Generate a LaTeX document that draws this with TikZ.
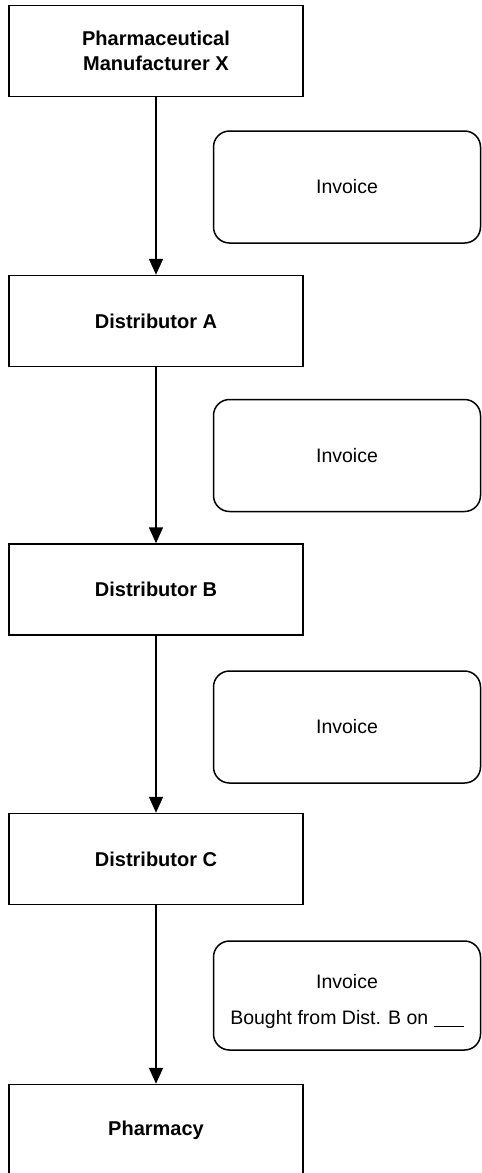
\documentclass[tikz,border=0pt]{standalone}
\usepackage{fontspec}
\setmainfont{Liberation Sans}
\usetikzlibrary{arrows.meta}
\begin{document}
\begin{tikzpicture}[x=1pt,y=-1pt,
  party/.style={draw=black,line width=1.5pt,minimum width=294pt,minimum height=91pt,
    align=center,inner sep=0pt,font=\fontsize{20}{25}\selectfont\bfseries},
  doc/.style={draw=black,line width=1.5pt,rounded corners=16pt,minimum width=267pt,
    minimum height=112pt,align=center,inner sep=0pt,font=\fontsize{19.5}{36}\selectfont},
  flow/.style={line width=1.8pt,-{Triangle[length=16pt,width=14pt]}}]
\useasboundingbox (0,0) rectangle (482,1173);
\node[party] (b1) at (156,51) {Pharmaceutical\\Manufacturer X};
\node[party] (b2) at (156,321) {Distributor A};
\node[party] (b3) at (156,589.5) {Distributor B};
\node[party] (b4) at (156,859) {Distributor C};
\node[party] (b5) at (156,1130) {Pharmacy};
\node[doc] (r1) at (347,187) {Invoice};
\node[doc] (r2) at (347,455.5) {Invoice};
\node[doc] (r3) at (347,727) {Invoice};
\node[doc,minimum height=109pt] (r4) at (347,995.5) {\rule{0pt}{26pt}Invoice\\Bought from Dist. B on \underline{\hspace{30pt}}};
\draw[flow] (b1.south) -- (b2.north);
\draw[flow] (b2.south) -- (b3.north);
\draw[flow] (b3.south) -- (b4.north);
\draw[flow] (b4.south) -- (b5.north);
\end{tikzpicture}
\end{document}
